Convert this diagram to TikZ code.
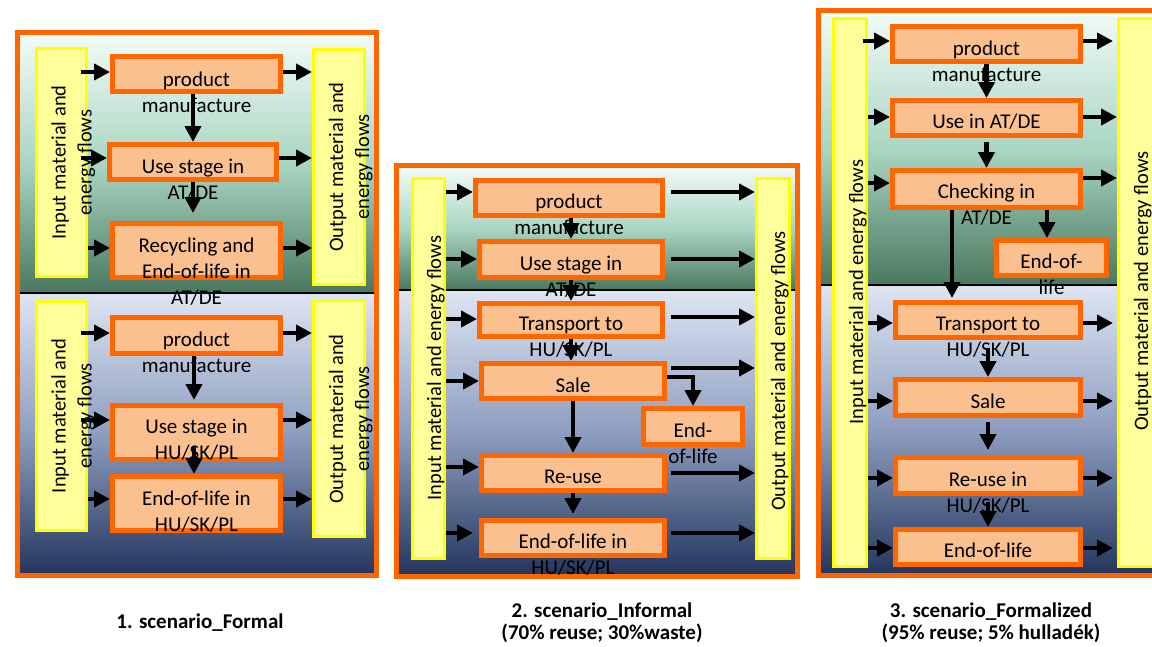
\documentclass[tikz,border=0pt]{standalone}
\usepackage{fontspec}
\setmainfont{Carlito}
\usetikzlibrary{arrows.meta,calc}
\definecolor{frameor}{HTML}{FF6600}
\definecolor{boxfill}{HTML}{FAC090}
\definecolor{baryel}{HTML}{FFFF00}
\definecolor{barfill}{HTML}{FFFF99}
\definecolor{gtop}{HTML}{F1FBF7}
\definecolor{gmid}{HTML}{A9D5C2}
\definecolor{gbot}{HTML}{4A775F}
\definecolor{btop}{HTML}{DEE5F3}
\definecolor{bmid}{HTML}{8E9EC0}
\definecolor{bbot}{HTML}{25375E}
\newcommand\obox[5]{\node[obx, minimum width={#4-#2-5}, minimum height={#5-#3-5}] (#1) at ({(#2+#4)/2},{(#3+#5)/2}) {};}
\newcommand\ybar[5]{\node[ybx, minimum width={#4-#2-3}, minimum height={#5-#3-3}] (#1) at ({(#2+#4)/2},{(#3+#5)/2}) {};}
\begin{document}
\begin{tikzpicture}[x=1pt,y=-1pt,
  obx/.style={draw=frameor, line width=5pt, fill=boxfill, inner sep=0pt},
  ybx/.style={draw=baryel, line width=3pt, fill=barfill, inner sep=0pt},
  frm/.style={draw=frameor, line width=5pt},
  divl/.style={draw=black, line width=2pt},
  txt/.style={font=\fontsize{21}{26}\selectfont, align=center, inner sep=0pt, anchor=base},
  btx/.style={font=\fontsize{20.5}{26}\selectfont, align=center, inner sep=0pt, anchor=base, rotate=90},
  captx/.style={font=\bfseries\fontsize{21}{22}\selectfont, align=center, inner sep=0pt, anchor=base},
  arr/.style={line width=4.5pt, -{Triangle[length=16pt,width=16pt]}}]
\useasboundingbox (0,0) rectangle (1152,646);
\clip (0,0) rectangle (1152,646);

% ---------- backgrounds ----------
\shade[top color=gtop, bottom color=gbot, middle color=gmid] (20,35) rectangle (374,293);
\shade[top color=btop, bottom color=bbot, middle color=bmid] (20,293) rectangle (374,573);
\draw[divl] (20,293) -- (374,293);
\draw[frm] (17.5,32.5) rectangle (376.5,575.5);

\shade[top color=gtop, bottom color=gbot, middle color=gmid] (399,168) rectangle (795,290);
\shade[top color=btop, bottom color=bbot, middle color=bmid] (399,290) rectangle (795,573);
\draw[divl] (399,290) -- (795,290);
\draw[frm] (396.5,165.5) rectangle (797.5,576);

\shade[top color=gtop, bottom color=gbot, middle color=gmid] (821,13) rectangle (1165,285);
\shade[top color=btop, bottom color=bbot, middle color=bmid] (821,285) rectangle (1165,573);
\draw[divl] (821,285) -- (1165,285);
\draw[frm] (818.5,10.5) rectangle (1170,575.5);

% ---------- bars ----------
\ybar{L1}{35}{47}{88}{278}
\ybar{R1}{312}{48}{366}{286}
\ybar{L2}{35}{300}{88}{532}
\ybar{R2}{312}{299}{366}{538}
\ybar{L3}{411}{177}{446}{560}
\ybar{R3}{755}{177}{791}{560}
\ybar{L4}{832}{17}{868}{568}
\ybar{R4}{1117}{17}{1170}{568}

% ---------- boxes ----------
\obox{a1}{110}{54}{283}{94}
\obox{b1}{107}{142}{279}{182}
\obox{c1}{110}{221}{283}{280}
\obox{d1}{110}{315}{283}{356}
\obox{e1}{110}{403}{283}{462}
\obox{f1}{110}{474}{283}{533}

\obox{a2}{473}{178}{665}{218}
\obox{b2}{477}{239}{665}{280}
\obox{c2}{477}{301}{665}{339}
\obox{d2}{479}{361}{667}{401}
\obox{e2}{641}{406}{745}{447}
\obox{f2}{479}{453}{667}{493}
\obox{g2}{479}{518}{667}{558}

\obox{a3}{890}{24}{1083}{64}
\obox{b3}{890}{98}{1083}{138}
\obox{c3}{890}{168}{1083}{210}
\obox{e3}{994}{238}{1109}{278}
\obox{d3}{893}{300}{1083}{340}
\obox{s3}{893}{377}{1083}{418}
\obox{f3}{893}{455}{1083}{496}
\obox{g3}{893}{527}{1083}{567}

% ---------- bar texts (anchor = baseline of last line) ----------
\node[btx] (tL1) at (91.5,162.5) {Input material and\\energy flows};
\node[btx] (tR1) at (369,167) {Output material and\\energy flows};
\node[btx] (tL2) at (91.5,416) {Input material and\\energy flows};
\node[btx] (tR2) at (369,419) {Output material and\\energy flows};
\node[btx] (tL3) at (441,368) {Input material and energy flows};
\node[btx] (tR3) at (785,371) {Output material and energy flows};
\node[btx] (tL4) at (863,292) {Input material and energy flows};
\node[btx] (tR4) at (1148,291) {Output material and energy flows};

% ---------- box texts (anchor = baseline of last line) ----------
\node[txt] (ta1) at (196.5,112) {product\\manufacture};
\node[txt] (tb1) at (193,199) {Use stage in\\AT/DE};
\node[txt] (tc1) at (196.5,304) {Recycling and\\End-of-life in\\AT/DE};
\node[txt] (td1) at (196.5,372) {product\\manufacture};
\node[txt] (te1) at (196.5,459) {Use stage in\\HU/SK/PL};
\node[txt] (tf1) at (196.5,531) {End-of-life in\\HU/SK/PL};

\node[txt] (ta2) at (569,234) {product\\manufacture};
\node[txt] (tb2) at (571,296) {Use stage in\\AT/DE};
\node[txt] (tc2) at (571,356) {Transport to\\HU/SK/PL};
\node[txt] (td2) at (573,392) {Sale};
\node[txt] (te2) at (693,463) {End-\\of-life};
\node[txt] (tf2) at (573,483) {Re-use};
\node[txt] (tg2) at (573,574) {End-of-life in\\HU/SK/PL};

\node[txt] (ta3) at (986.5,81) {product\\manufacture};
\node[txt] (tb3) at (986.5,128) {Use in AT/DE};
\node[txt] (tc3) at (986.5,224) {Checking in\\AT/DE};
\node[txt] (te3) at (1051.5,294) {End-of-\\life};
\node[txt] (td3) at (988,356) {Transport to\\HU/SK/PL};
\node[txt] (ts3) at (988,408) {Sale};
\node[txt] (tf3) at (988,512) {Re-use in\\HU/SK/PL};
\node[txt] (tg3) at (988,557) {End-of-life};

% ---------- captions ----------
\node[captx] (cap1) at (200,628) {1. scenario\_Formal};
\node[captx] (cap2) at (602,639) {2. scenario\_Informal\\(70\% reuse; 30\%waste)};
\node[captx] (cap3) at (991,639) {3. scenario\_Formalized\\(95\% reuse; 5\% hulladék)};

% ---------- arrows panel 1 ----------
\draw[arr] ($(L1.east |- 0,72)+(-7,0)$) -- (a1.west |- 0,72);
\draw[arr] (a1.east |- 0,72) -- (R1.west |- 0,72);
\draw[arr] (b1.north |- a1.south) -- (b1.north);
\draw[arr] ($(L1.east |- 0,158)+(-7,0)$) -- (b1.west |- 0,158);
\draw[arr] (b1.east |- 0,158) -- (R1.west |- 0,158);
\draw[arr, shorten >=8pt] (b1.south) -- (c1.north -| b1.south);
\draw[arr] (L1.east |- 0,248) -- (c1.west |- 0,248);
\draw[arr] (c1.east |- 0,248) -- (R1.west |- 0,248);
\draw[arr] ($(L2.east |- 0,333)+(-7,0)$) -- (d1.west |- 0,333);
\draw[arr] (d1.east |- 0,333) -- (R2.west |- 0,333);
\draw[arr, shorten >=3pt] (d1.south -| 194,0) -- (e1.north -| 194,0);
\draw[arr] ($(L2.east |- 0,420)+(-7,0)$) -- (e1.west |- 0,420);
\draw[arr] (e1.east |- 0,420) -- (R2.west |- 0,420);
\draw[arr] ($(e1.south -| 194,0)+(0,-15)$) -- (f1.north -| 194,0);
\draw[arr] (L2.east |- 0,499) -- (f1.west |- 0,499);
\draw[arr] (f1.east |- 0,499) -- (R2.west |- 0,499);

% ---------- arrows panel 2 ----------
\draw[arr] (L3.east |- 0,192) -- (a2.west |- 0,192);
\draw[arr] ($(a2.east |- 0,192)+(6,0)$) -- (R3.west |- 0,192);
\draw[arr] (b2.north |- a2.south) -- (b2.north);
\draw[arr] (L3.east |- 0,259) -- (b2.west |- 0,259);
\draw[arr] ($(b2.east |- 0,259)+(6,0)$) -- (R3.west |- 0,259);
\draw[arr] (c2.north |- b2.south) -- (c2.north);
\draw[arr] (L3.east |- 0,319) -- (c2.west |- 0,319);
\draw[arr] ($(c2.east |- 0,317)+(6,0)$) -- (R3.west |- 0,317);
\draw[arr] (c2.south) -- (d2.north -| c2.south);
\draw[arr] (L3.east |- 0,381) -- (d2.west |- 0,381);
\draw[arr] ($(d2.east |- 0,368)+(4,0)$) -- (R3.west |- 0,368);
\draw[arr] (d2.east |- 0,377) -| (e2.north);
\draw[arr] (d2.south -| f2.north) -- (f2.north);
\draw[arr] (L3.east |- 0,467) -- (f2.west |- 0,467);
\draw[arr] ($(f2.east |- 0,473)+(4,0)$) -- (R3.west |- 0,473);
\draw[arr, shorten >=4pt] (f2.south) -- (g2.north);
\draw[arr, shorten >=6pt] (L3.east |- 0,533) -- (g2.west |- 0,533);
\draw[arr] ($(g2.east |- 0,533)+(4,0)$) -- (R3.west |- 0,533);

% ---------- arrows panel 3 ----------
\draw[arr] ($(L4.east |- 0,41)+(-5,0)$) -- (a3.west |- 0,41);
\draw[arr, shorten >=4pt] (a3.east |- 0,41) -- (R4.west |- 0,41);
\draw[arr] (b3.north |- a3.south) -- (b3.north);
\draw[arr] (L4.east |- 0,117) -- (b3.west |- 0,117);
\draw[arr] (b3.east |- 0,117) -- (R4.west |- 0,117);
\draw[arr, shorten <=4pt] (b3.south) -- (c3.north);
\draw[arr] (L4.east |- 0,183) -- (c3.west |- 0,183);
\draw[arr] (c3.east |- 0,178) -- (R4.west |- 0,178);
\draw[arr] (c3.south -| 1047,0) -- (e3.north -| 1047,0);
\draw[arr, shorten >=2pt] (c3.south -| 952,0) -- (d3.north -| 952,0);
\draw[arr] (L4.east |- 0,323) -- (d3.west |- 0,323);
\draw[arr, shorten >=4pt] (d3.east |- 0,323) -- (R4.west |- 0,323);
\draw[arr] ($(d3.south -| 988,0)+(0,8)$) -- (s3.north -| 988,0);
\draw[arr] (L4.east |- 0,401) -- (s3.west |- 0,401);
\draw[arr, shorten >=4pt] (s3.east |- 0,401) -- (R4.west |- 0,401);
\draw[arr, shorten <=4pt, shorten >=5pt] (s3.south -| 988,0) -- (f3.north -| 988,0);
\draw[arr] (L4.east |- 0,478) -- (f3.west |- 0,478);
\draw[arr, shorten >=4pt] (f3.east |- 0,478) -- (R4.west |- 0,478);
\draw[arr] ($(f3.south -| 988,0)+(0,6)$) -- (g3.north -| 988,0);
\draw[arr] (L4.east |- 0,548) -- (g3.west |- 0,548);
\draw[arr, shorten >=4pt] (g3.east |- 0,548) -- (R4.west |- 0,548);
\end{tikzpicture}
\end{document}
